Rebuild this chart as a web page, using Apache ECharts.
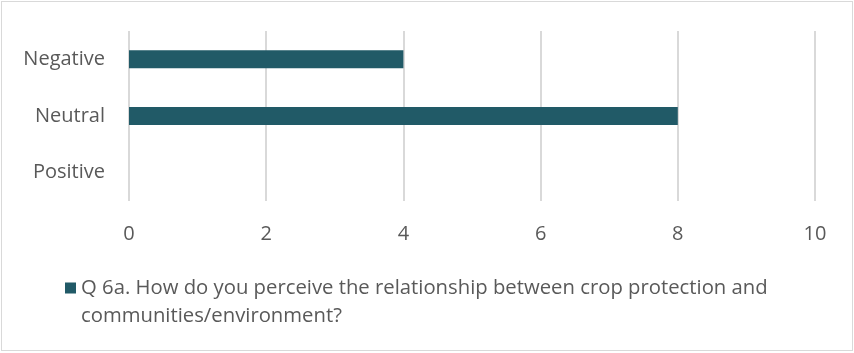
<!DOCTYPE html>
<html>
<head>
<meta charset="utf-8">
<script src="https://cdn.jsdelivr.net/npm/echarts@6/dist/echarts.min.js"></script>
<style>
  html, body { margin: 0; padding: 0; background: #fff; }
  #frame { position: absolute; left: 1px; top: 1px; width: 850px; height: 348px; border: 1px solid #d9d9d9; }
  #chart { position: absolute; left: 0; top: 0; width: 854px; height: 353px; }
</style>
</head>
<body>
<div id="frame"></div>
<div id="chart"></div>
<script>
// Perception categories, listed bottom-to-top as the category axis draws them
const categories = ['Positive', 'Neutral', 'Negative'];
// Number of responses per category
const responses = [0, 8, 4];
// Horizontal value-axis ticks
const xMin = 0, xMax = 10, xStep = 2;
const seriesName = 'Q 6a. How do you perceive the relationship between crop protection and communities/environment?';

const font = 'Open Sans';
const textColor = '#595959';
const lineH = 28;

// Legend swatch: an 11px square sitting level with the first text line.
// The trailing zero-length segment stretches the icon box down by one line.
const swatch = 'path://M0,0 H11 V11 H0 Z M0,' + (11 + lineH) + ' L0.01,' + (11 + lineH);

const chart = echarts.init(document.getElementById('chart'), null, { renderer: 'canvas' });
chart.setOption({
  animation: false,
  grid: { left: 129, right: 39, top: 31, bottom: 152, containLabel: false },
  xAxis: {
    type: 'value', min: xMin, max: xMax, interval: xStep,
    axisLine: { show: false }, axisTick: { show: false },
    splitLine: { lineStyle: { color: '#d9d9d9', width: 2 } },
    axisLabel: { color: textColor, fontFamily: font, fontSize: 20, margin: 23 }
  },
  yAxis: {
    type: 'category', data: categories,
    axisLine: { show: false }, axisTick: { show: false },
    axisLabel: { color: textColor, fontFamily: font, fontSize: 20, margin: 24 }
  },
  legend: {
    left: 65, top: 274, padding: 0, itemWidth: 11, itemHeight: 11 + lineH, itemGap: 0,
    icon: swatch,
    textStyle: { color: textColor, fontFamily: font, fontSize: 20.3, width: 720, overflow: 'break', lineHeight: lineH },
    data: [seriesName]
  },
  series: [{
    name: seriesName, type: 'bar', data: responses,
    barWidth: 18,
    itemStyle: { color: '#215a67' }
  }]
});
</script>
</body>
</html>
